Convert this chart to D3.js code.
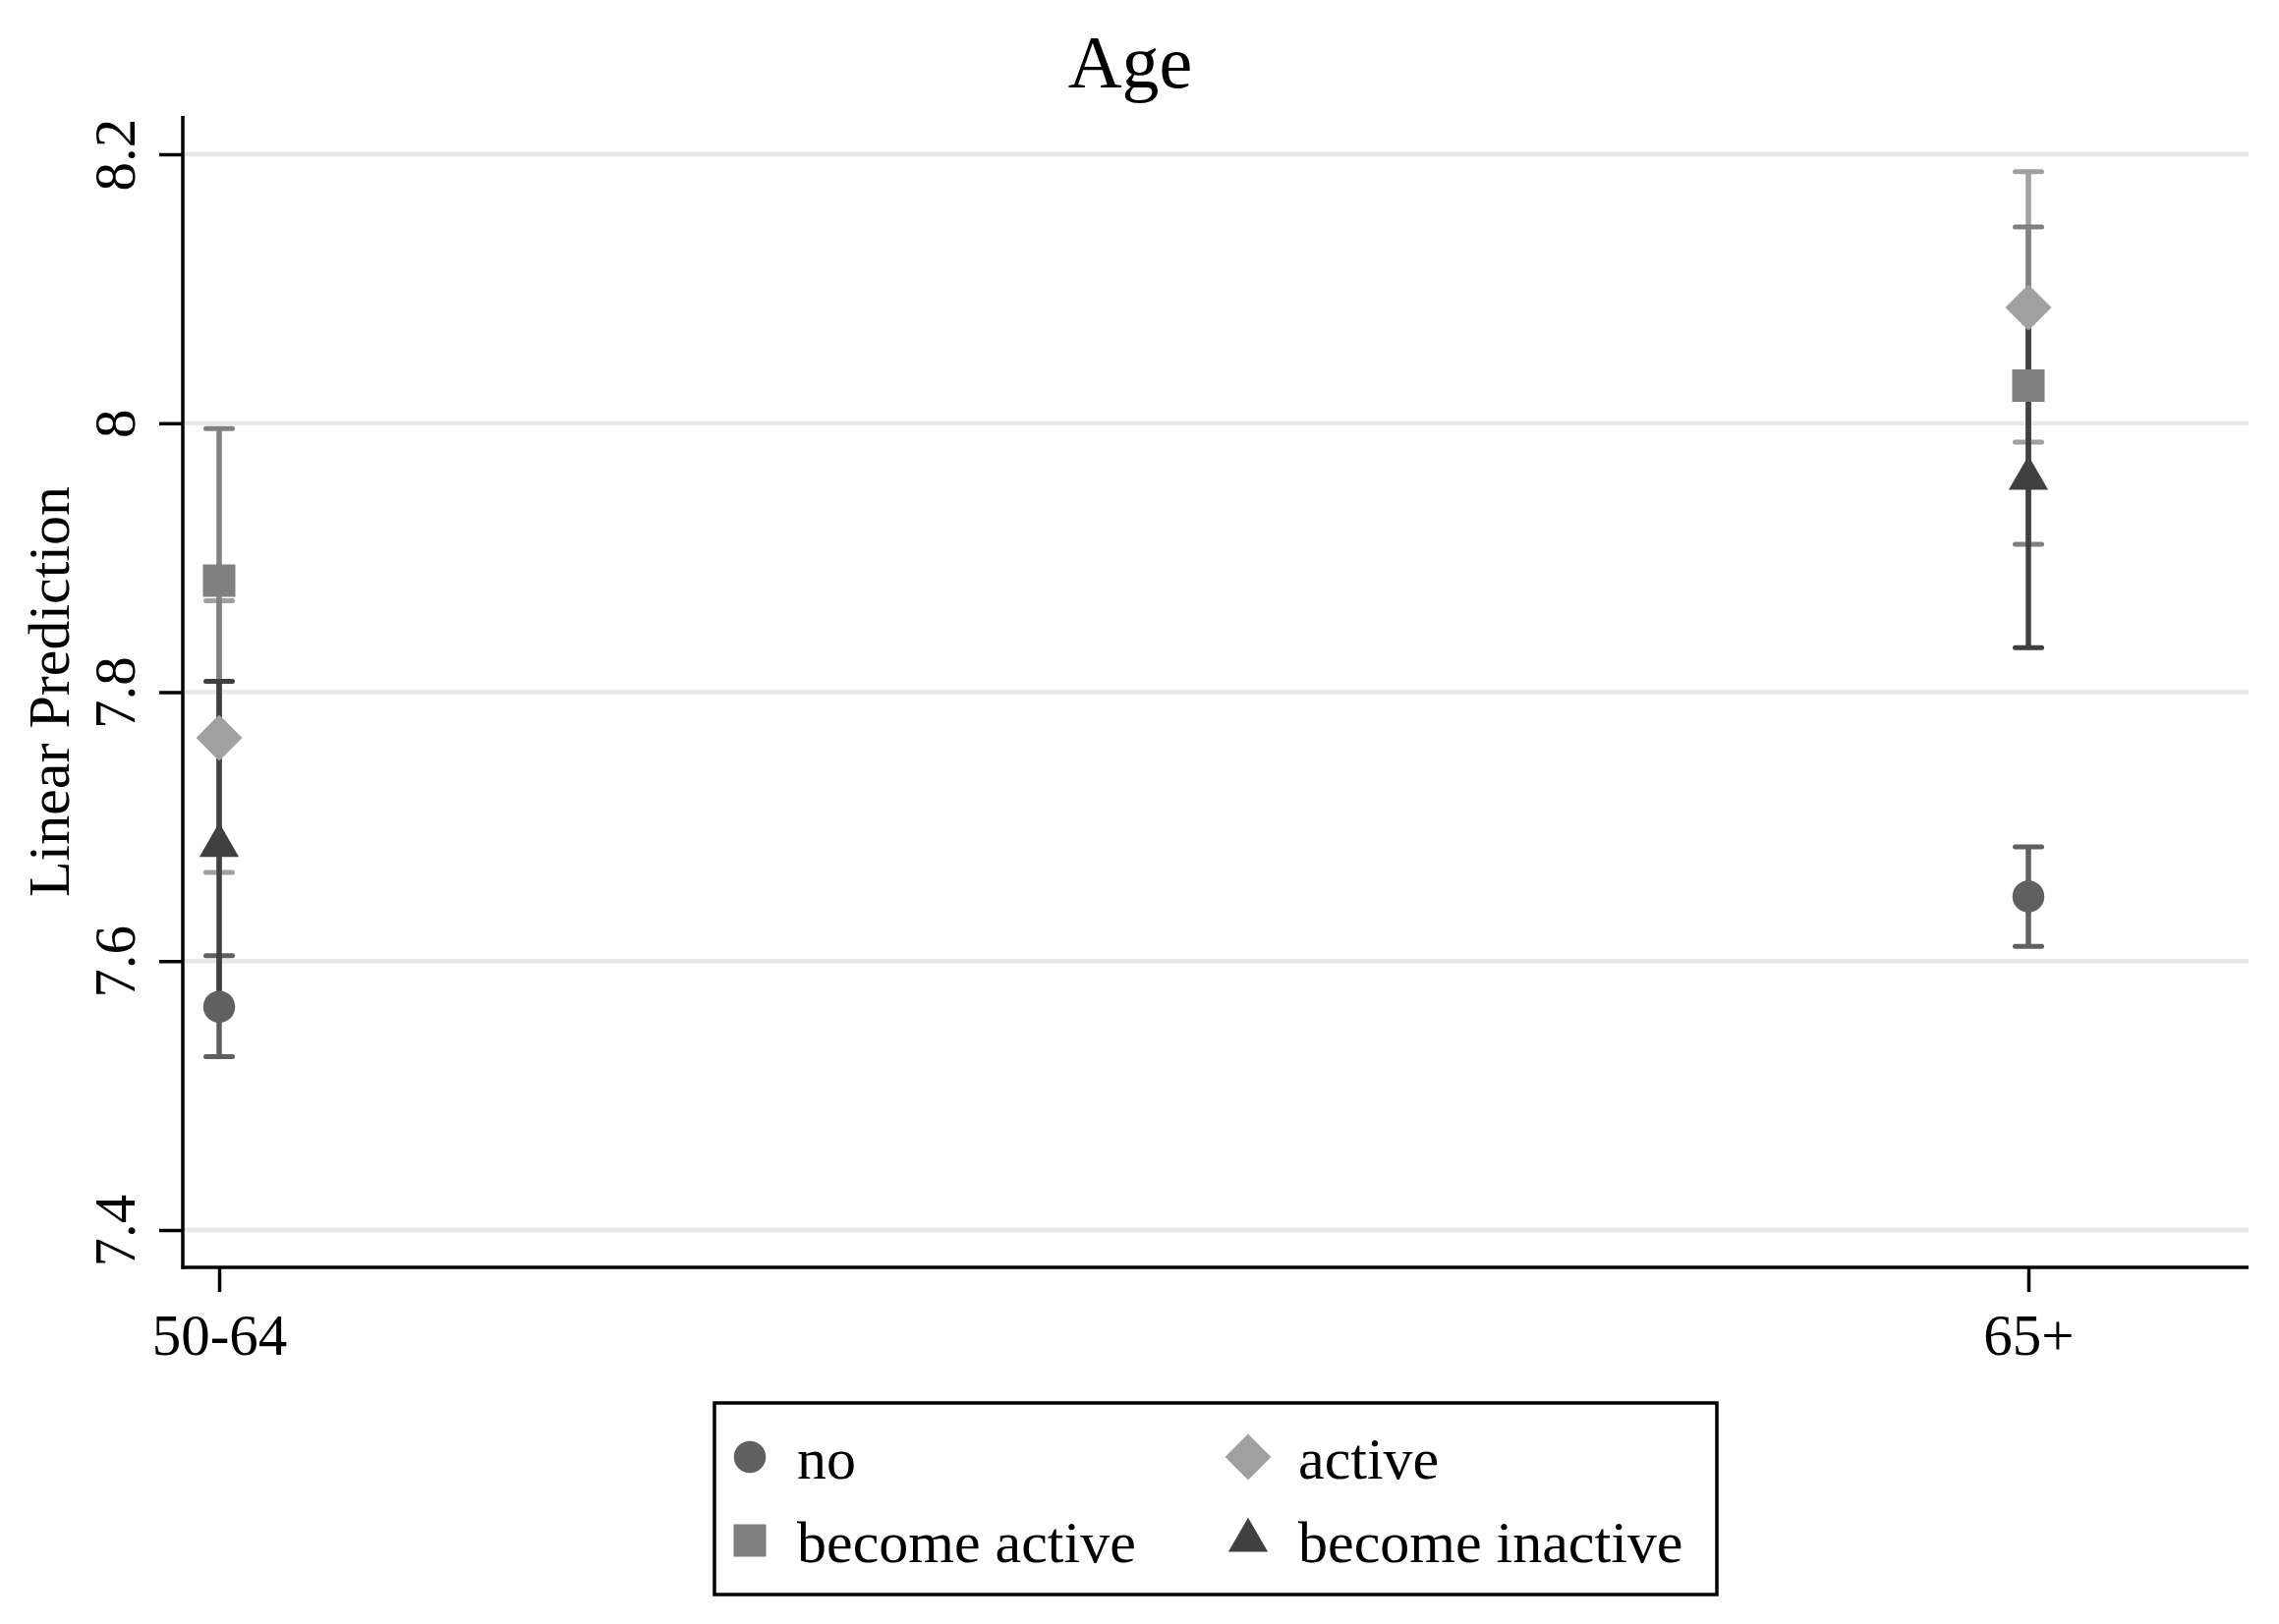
<!DOCTYPE html>
<html>
<head>
<meta charset="utf-8">
<script src="https://cdn.jsdelivr.net/npm/d3@7"></script>
<style>
  body { margin: 0; background: #fff; }
  text { font-family: "Liberation Serif", "Times New Roman", serif; fill: #000; }
</style>
</head>
<body>
<div id="chart-area"></div>
<script>
// Categories and series
let categories = ["50-64", "65+"];
let seriesNames = ["no", "active", "become active", "become inactive"];
let yTicks = [7.4, 7.6, 7.8, 8, 8.2];

// Estimates and confidence bounds, one value per category
let noEst = [7.566, 7.648],          noLo = [7.529, 7.611],          noHi = [7.604, 7.685];
let activeEst = [7.766, 8.086],      activeLo = [7.666, 7.986],      activeHi = [7.868, 8.187];
let becActiveEst = [7.883, 8.028],   becActiveLo = [7.767, 7.910],   becActiveHi = [7.996, 8.146];
let becInactEst = [7.686, 7.959],    becInactLo = [7.566, 7.833],    becInactHi = [7.808, 8.087];

let width = 2319,
	height = 1653;

let series = [
	{name: seriesNames[0], est: noEst, lo: noLo, hi: noHi, color: "#606060", shape: "circle"},
	{name: seriesNames[1], est: activeEst, lo: activeLo, hi: activeHi, color: "#a0a0a0", shape: "diamond"},
	{name: seriesNames[2], est: becActiveEst, lo: becActiveLo, hi: becActiveHi, color: "#808080", shape: "square"},
	{name: seriesNames[3], est: becInactEst, lo: becInactLo, hi: becInactHi, color: "#404040", shape: "triangle"}
];

let svg = d3.select("#chart-area").append("svg")
	.attr("width", width)
	.attr("height", height);

svg.append("rect").attr("width", width).attr("height", height).attr("fill", "#fff");

// Plot region
let plotLeft = 186, plotRight = 2288, plotTop = 118, plotBottom = 1290;

// Scales
let y = d3.scaleLinear()
	.domain([7.4, 8.2])
	.range([1252, 157]);

let x = d3.scalePoint()
	.domain(categories)
	.range([223, 2064]);

// Gridlines
svg.append("g")
	.selectAll("line")
	.data(yTicks)
	.enter()
	.append("line")
	.attr("x1", plotLeft)
	.attr("x2", plotRight)
	.attr("y1", d => y(d))
	.attr("y2", d => y(d))
	.attr("stroke", "#e8e8e8")
	.attr("stroke-width", 4.5);

// Y axis
let yAxis = d3.axisLeft(y)
	.tickValues(yTicks)
	.tickSize(24)
	.tickFormat(d => d3.format("")(d));

let yg = svg.append("g")
	.attr("transform", "translate(" + plotLeft + ",0)")
	.call(yAxis);
yg.select(".domain").remove();
yg.selectAll(".tick line").attr("stroke", "#000").attr("stroke-width", 3.5);
yg.selectAll(".tick text")
	.attr("x", null).attr("dy", null)
	.attr("transform", "translate(-49,0) rotate(-90)")
	.attr("text-anchor", "middle")
	.style("font-size", "59px")
	.style("font-family", "'Liberation Serif', serif")
	.attr("fill", "#000");

// X axis
let xAxis = d3.axisBottom(x)
	.tickSize(25);

let xg = svg.append("g")
	.attr("transform", "translate(0," + plotBottom + ")")
	.call(xAxis);
xg.select(".domain").remove();
xg.selectAll(".tick line").attr("stroke", "#000").attr("stroke-width", 3.5);
xg.selectAll(".tick text")
	.attr("y", 89).attr("dy", null)
	.style("font-size", "59px")
	.style("font-family", "'Liberation Serif', serif")
	.attr("fill", "#000");

// Axis lines
svg.append("line")
	.attr("x1", plotLeft).attr("x2", plotLeft)
	.attr("y1", plotTop).attr("y2", plotBottom + 1.5)
	.attr("stroke", "#000").attr("stroke-width", 3.5);
svg.append("line")
	.attr("x1", plotLeft - 1.5).attr("x2", plotRight)
	.attr("y1", plotBottom).attr("y2", plotBottom)
	.attr("stroke", "#000").attr("stroke-width", 3.5);

// Axis title and chart title
svg.append("text")
	.attr("transform", "translate(70," + ((plotTop + plotBottom) / 2) + ") rotate(-90)")
	.attr("text-anchor", "middle")
	.style("font-size", "60px")
	.text("Linear Prediction");

svg.append("text")
	.attr("x", 1150)
	.attr("y", 89)
	.attr("text-anchor", "middle")
	.style("font-size", "76px")
	.text("Age");

// Marker generator
function markerPath(shape) {
	if (shape === "circle") return d3.symbol(d3.symbolCircle, 830)();
	if (shape === "square") return d3.symbol(d3.symbolSquare, 1089)();
	if (shape === "diamond") return d3.symbol(d3.symbolSquare, 1100)();
	return d3.symbol(d3.symbolTriangle, 700)();
}
function markerTransform(shape, px, py) {
	return "translate(" + px + "," + py + ")" + (shape === "diamond" ? " rotate(45)" : "");
}

// Confidence intervals, drawn in series order
let capHalf = 13.5;
series.forEach(s => {
	let g = svg.append("g").attr("class", "ci");
	let rows = categories.map((c, i) => ({c: c, lo: s.lo[i], hi: s.hi[i]}));
	g.selectAll("line.bar")
		.data(rows)
		.enter()
		.append("line")
		.attr("x1", d => x(d.c)).attr("x2", d => x(d.c))
		.attr("y1", d => y(d.lo)).attr("y2", d => y(d.hi))
		.attr("stroke", s.color).attr("stroke-width", 5.5);
	["lo", "hi"].forEach(k => {
		g.selectAll("line.cap-" + k)
			.data(rows)
			.enter()
			.append("line")
			.attr("x1", d => x(d.c) - capHalf).attr("x2", d => x(d.c) + capHalf)
			.attr("y1", d => y(d[k])).attr("y2", d => y(d[k]))
			.attr("stroke", s.color).attr("stroke-width", 5)
			.attr("stroke-linecap", "round");
	});
});

// Point estimates
series.forEach(s => {
	svg.append("g")
		.selectAll("path")
		.data(categories.map((c, i) => ({c: c, v: s.est[i]})))
		.enter()
		.append("path")
		.attr("d", markerPath(s.shape))
		.attr("transform", d => markerTransform(s.shape, x(d.c), y(d.v)))
		.attr("fill", s.color);
});

// Legend
let legend = svg.append("g");
legend.append("rect")
	.attr("x", 727).attr("y", 1428)
	.attr("width", 1020).attr("height", 195)
	.attr("fill", "#fff")
	.attr("stroke", "#000").attr("stroke-width", 3.5);

let legendCols = [763, 1270];
let legendRows = [1483, 1568];
let legendItems = legend.selectAll("g.item")
	.data(series)
	.enter()
	.append("g")
	.attr("class", "item")
	.attr("transform", (d, i) => "translate(" + legendCols[i % 2] + "," + legendRows[Math.floor(i / 2)] + ")");

legendItems.append("path")
	.attr("d", d => markerPath(d.shape))
	.attr("transform", d => markerTransform(d.shape, 0, 0))
	.attr("fill", d => d.color);

legendItems.append("text")
	.attr("x", (d, i) => i % 2 === 0 ? 48 : 51)
	.attr("y", 22)
	.style("font-size", "60px")
	.text(d => d.name);
</script>
</body>
</html>
